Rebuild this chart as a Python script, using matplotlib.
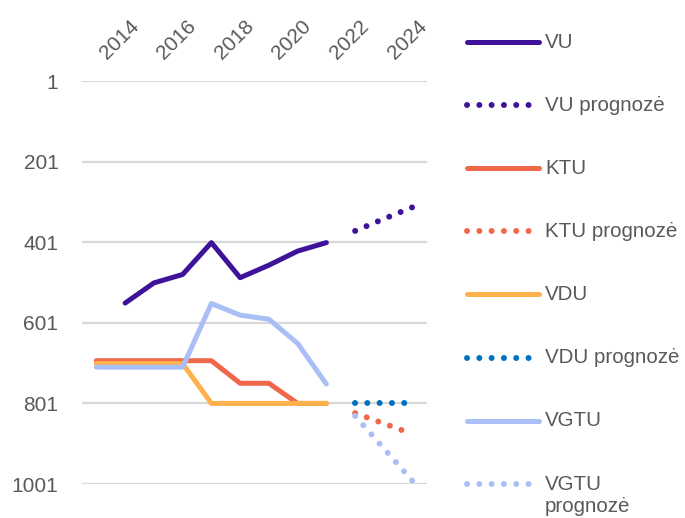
import matplotlib
matplotlib.use('Agg')
import matplotlib.pyplot as plt
from matplotlib.lines import Line2D
import numpy as np

plt.rcParams['font.family'] = ['Liberation Sans', 'DejaVu Sans']

nan = np.nan
years = [2014, 2015, 2016, 2017, 2018, 2019, 2020, 2021, 2022, 2023, 2024, 2025]

vu        = [nan, 552, 502, 481, 402, 489, 458, 423, 402, nan, nan, nan]
vu_prog   = [nan, nan, nan, nan, nan, nan, nan, nan, nan, 373, 343, 314]
ktu       = [695, 695, 695, 695, 695, 751, 751, 801, 801, nan, nan, nan]
ktu_prog  = [nan, nan, nan, nan, nan, nan, nan, nan, nan, 825, 851, 877]
vdu       = [702, 702, 702, 702, 801, 801, 801, 801, 801, nan, nan, nan]
vdu_prog  = [nan, nan, nan, nan, nan, nan, nan, nan, nan, 801, 801, 801]
vgtu      = [711, 711, 711, 711, 553, 582, 592, 652, 753, nan, nan, nan]
vgtu_prog = [nan, nan, nan, nan, nan, nan, nan, nan, nan, 832, 913, 994]

series = [
    ("VU", vu, '#3F1399', False),
    ("VU prognozė", vu_prog, '#3F1399', True),
    ("KTU", ktu, '#F0674A', False),
    ("KTU prognozė", ktu_prog, '#F0674A', True),
    ("VDU", vdu, '#FFB14E', False),
    ("VDU prognozė", vdu_prog, '#0070C0', True),
    ("VGTU", vgtu, '#A9BFF6', False),
    ("VGTU\nprognozė", vgtu_prog, '#A9BFF6', True),
]

yticks = [1, 201, 401, 601, 801, 1001]
text_color = '#595959'
lw = 3.6
lw_dot = 4.3
dots = (0, (0.01, 2.05))

fig = plt.figure(figsize=(6.85, 5.18), dpi=100)
ax = fig.add_axes([0.1197, 0.0656, 0.5037, 0.778])

x = np.arange(len(years))
for name, vals, color, dotted in series:
    if dotted:
        ax.plot(x, vals, color=color, lw=lw_dot, linestyle=dots,
                dash_capstyle='round', clip_on=False, zorder=3)
    else:
        ax.plot(x, vals, color=color, lw=lw, solid_capstyle='round',
                solid_joinstyle='round', clip_on=False, zorder=3)

ax.set_xlim(-0.5, len(years) - 0.5)
ax.set_ylim(1001, 1)
ax.set_yticks(yticks)
ax.set_yticklabels([str(v) for v in yticks], fontsize=15, color=text_color)
ax.yaxis.grid(True, color='#D9D9D9', lw=1.6)
ax.set_axisbelow(True)

ax.xaxis.tick_top()
ax.set_xticks(x[::2])
ax.set_xticklabels([str(y) for y in years[::2]], fontsize=15, color=text_color,
                   rotation=45, ha='left', va='bottom')
ax.tick_params(axis='x', length=0, pad=13)
ax.tick_params(axis='y', length=0, pad=17)
for s in ax.spines.values():
    s.set_visible(False)

# legend drawn manually on the right
W, H = 685, 518
for i, (name, vals, color, dotted) in enumerate(series):
    yp = 1 - (42 + i * 63.1) / H
    line = Line2D([467 / W, 539 / W], [yp, yp], transform=fig.transFigure,
                  color=color, lw=lw_dot if dotted else lw,
                  linestyle=dots if dotted else '-', dash_capstyle='round',
                  solid_capstyle='round')
    fig.add_artist(line)
    if '\n' in name:
        fig.text(545 / W, yp + 9 / H, name, fontsize=14.8, color=text_color,
                 va='top', linespacing=1.2)
    else:
        fig.text(545 / W, yp, name, fontsize=14.8, color=text_color, va='center')

fig.savefig('out.png', dpi=100, facecolor='white')
